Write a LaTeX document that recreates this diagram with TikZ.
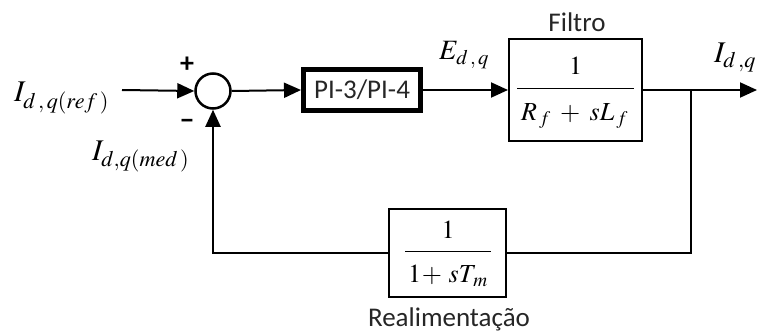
\documentclass[tikz,border=0pt]{standalone}
\usepackage{amsmath}
\usepackage{mathptmx}
\usepackage{fontspec}
\setsansfont{Carlito}
\newfontfamily\lblfont{Carlito}
\usetikzlibrary{arrows.meta}
\tikzset{
  sig/.style={line width=2pt,-{Triangle[length=17pt,width=15pt]}},
  wire/.style={line width=2pt},
  blockbox/.style={draw,line width=2pt,rectangle,inner sep=0pt},
  sumnode/.style={draw,line width=2.5pt,circle,minimum size=35pt,inner sep=0pt},
  sanslbl/.style={font=\lblfont\fontsize{27}{32}\selectfont,text=black!85,inner sep=0pt},
  mathlbl/.style={font=\fontsize{30}{36}\selectfont,inner sep=0pt},
  fraclbl/.style={font=\fontsize{26}{30}\selectfont,inner sep=0pt,anchor=base},
  signlbl/.style={font=\lblfont\bfseries\fontsize{28}{30}\selectfont,inner sep=0pt}
}
\begin{document}
\begin{tikzpicture}[x=1pt,y=-1pt]
\useasboundingbox (0,0) rectangle (762,334);
% nodes
\node[sumnode] (sum) at (213,91) {};
\coordinate (in) at (122,90);
\node[draw,line width=5pt,rectangle,minimum width=117pt,minimum height=41pt,inner sep=0pt,sanslbl] (pi) at (362,90) {PI-3/PI-4};
\node[blockbox,minimum width=133pt,minimum height=102pt] (filt) at (575.5,90) {};
\node[fraclbl] (filtfrac) at (575.5,95) {$\displaystyle\genfrac{}{}{1.6pt}{0}{\rule[-8pt]{0pt}{8pt}1}{\rule{0pt}{26pt}\hskip4pt R_{\,f}\;+\;sL_{\,f}\hskip6pt}$};
\node[blockbox,minimum width=117pt,minimum height=88pt] (fb) at (447.5,253) {};
\node[fraclbl] (fbfrac) at (448,258) {$\displaystyle\genfrac{}{}{1.6pt}{0}{\rule[-7pt]{0pt}{7pt}1}{\rule{0pt}{25pt}\hskip3pt 1\!+\,sT_{\,m}\hskip3pt}$};
\coordinate (branch) at (691,90);
\coordinate (out) at (757,90);
\coordinate (rc) at (691,253);
\coordinate (lc) at (213,253);
% labels
\node[mathlbl,anchor=base west] (lref) at (14,102) {$I_{d\,,\,q(ref\,)}$};
\node[mathlbl,anchor=base west] (lmed) at (92,160) {$I_{d,q(med\,)}$};
\node[font=\fontsize{28}{32}\selectfont,inner sep=0pt,anchor=base west] (le) at (439,60) {$E_{d\,,\,q}$};
\node[mathlbl,anchor=base west] (lout) at (714,63) {$I_{d\,,q}$};
\node[sanslbl] (lfilt) at (577,22) {Filtro};
\node[sanslbl] (lrea) at (449,319) {Realimentação};
\node[signlbl] (plus) at (187,65) {+};
\node[signlbl] (minus) at (187,124) {−};
% connectors
\draw[sig] (in) -- (sum.west);
\draw[sig] (sum.east) -- (pi.west);
\draw[sig] (pi.east) -- (filt.west);
\draw[sig] (filt.east) -- (out);
\draw[wire] (branch) -- (rc) -- (fb.east);
\draw[sig] (fb.west) -- (lc) -- (sum.south);
\end{tikzpicture}
\end{document}
